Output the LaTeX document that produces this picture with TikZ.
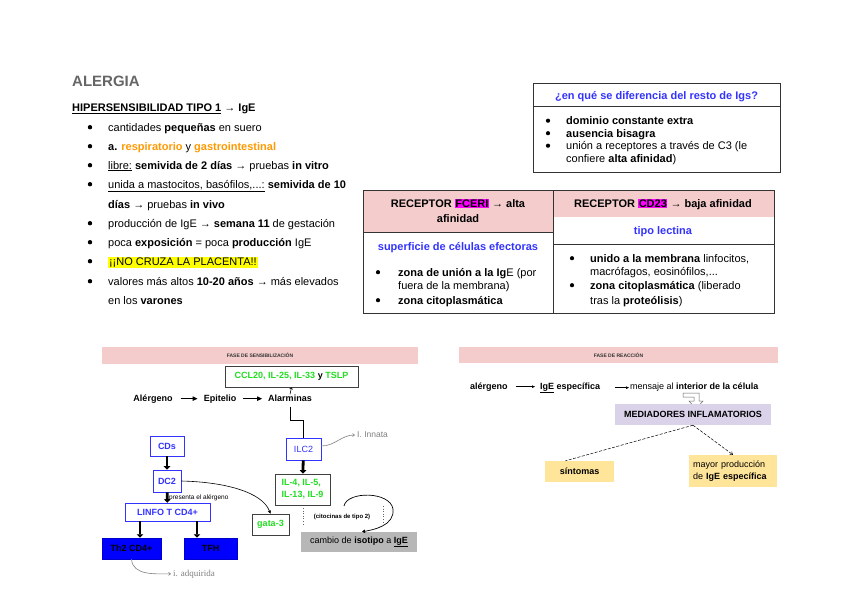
\documentclass[tikz,border=0pt]{standalone}
\usepackage{fontspec}
\setmainfont{Liberation Sans}
\newfontfamily\seriff{Liberation Serif}
\usetikzlibrary{arrows.meta}
\definecolor{alggray}{HTML}{666666}
\definecolor{orng}{HTML}{FF9900}
\definecolor{blu}{HTML}{3333FF}
\definecolor{grn}{HTML}{22DD22}
\definecolor{pnk}{HTML}{F4CCCC}
\definecolor{lav}{HTML}{D9D2E9}
\definecolor{ylw}{HTML}{FFE599}
\definecolor{gbox}{HTML}{B7B7B7}
\definecolor{mag}{HTML}{FF00FF}
\definecolor{hlyel}{HTML}{FFFF00}
\newcommand\hlmag[1]{{\setlength\fboxsep{0.6pt}\colorbox{mag}{#1}}}
\newcommand\hlyw[1]{{\setlength\fboxsep{0.8pt}\colorbox{hlyel}{#1}}}
\begin{document}
\begin{tikzpicture}[x=1pt,y=-1pt,
 every node/.style={inner sep=0pt},
 lt/.style={anchor=base west,font=\fontsize{11}{13}\selectfont},
 tc/.style={anchor=base,font=\fontsize{11}{13}\selectfont},
 banner/.style={fill=pnk,font=\bfseries\fontsize{5}{6}\selectfont,text=black!80},
 bbox/.style={draw=blu,line width=0.6pt,text=blu,font=\bfseries\fontsize{9}{11}\selectfont},
 gbx/.style={draw=black!75,line width=0.7pt},
 bfill/.style={fill=blue,draw=blue!80!black,line width=0.5pt,font=\bfseries\fontsize{9}{11}\selectfont},
 dtx/.style={anchor=base,font=\bfseries\fontsize{9}{11}\selectfont},
 tk/.style={line width=2.8pt,-{Triangle[length=3.5pt,width=6.5pt]}},
 ma/.style={line width=1pt,-{Triangle[length=5pt,width=4.5pt]}},
 sa/.style={line width=0.5pt,-{Triangle[length=3pt,width=2.5pt]}},
 ga/.style={draw=black!50,line width=0.6pt,-{Straight Barb[length=2pt,width=3pt]}},
 dsh/.style={line width=0.5pt,dash pattern=on 3pt off 1.5pt},
 tbl/.style={draw=black!80,line width=0.8pt}
]
\useasboundingbox (0,0) rectangle (848,600);
\fill[white] (0,0) rectangle (848,600);

% ---------- title and list ----------
\node[anchor=base west,font=\bfseries\fontsize{15}{18}\selectfont,text=alggray] (ttl) at (72,86.5) {ALERGIA};
\node[lt] (hdr) at (72,111.5) {\textbf{\underline{HIPERSENSIBILIDAD TIPO 1}} → \textbf{IgE}};
\node[lt] (l1) at (108,131) {cantidades \textbf{pequeñas} en suero};
\node[lt] (l2) at (108,150) {\textbf{a. \textcolor{orng}{respiratorio}} y \textbf{\textcolor{orng}{gastrointestinal}}};
\node[lt] (l3) at (108,169) {\underline{libre:} \textbf{semivida de 2 días} → pruebas \textbf{in vitro}};
\node[lt] (l4) at (108,188) {\underline{unida a mastocitos, basófilos,...:} \textbf{semivida de 10}};
\node[lt] (l5) at (108,208) {\textbf{días} → pruebas \textbf{in vivo}};
\node[lt] (l6) at (108,227) {producción de IgE → \textbf{semana 11} de gestación};
\node[lt] (l7) at (108,246) {poca \textbf{exposición} = poca \textbf{producción} IgE};
\node[lt] (l8) at (108,265) {\hlyw{¡¡NO CRUZA LA PLACENTA!!}};
\node[lt] (l9) at (108,285) {valores más altos \textbf{10-20 años} → más elevados};
\node[lt] (l10) at (108,304) {en los \textbf{varones}};
\foreach \yy in {131,150,169,188,227,246,265,285} \fill (90,\yy-3.8) circle (2.2);

% ---------- table 1 ----------
\draw[tbl] (533,83) rectangle (780,172);
\draw[tbl] (533,106) -- (780,106);
\node[tc,text=blu] (q1) at (656.5,99) {\textbf{¿en qué se diferencia del resto de Igs?}};
\node[lt] (a1) at (566,124.5) {\textbf{dominio constante extra}};
\node[lt] (a2) at (566,137) {\textbf{ausencia bisagra}};
\node[lt] (a3) at (566,149.5) {unión a receptores a través de C3 (le};
\node[lt] (a4) at (566,162.5) {confiere \textbf{alta afinidad})};
\foreach \yy in {124.5,137,149.5} \fill (548,\yy-3.8) circle (2.1);

% ---------- table 2 ----------
\fill[pnk] (363,190) rectangle (553,232);
\fill[pnk] (553,190) rectangle (774,217);
\draw[tbl] (363,190) rectangle (774,313);
\draw[tbl] (553,190) -- (553,313);
\draw[tbl] (363,232) -- (553,232);
\draw[tbl] (553,244) -- (774,244);
\node[tc] (r1a) at (458,207) {\textbf{RECEPTOR \hlmag{FCERI}} → \textbf{alta}};
\node[tc] (r1b) at (458,222) {\textbf{afinidad}};
\node[tc,text=blu] (r1c) at (458,250) {\textbf{superficie de células efectoras}};
\node[lt] (r1d) at (398,276) {\textbf{zona de unión a la Ig}E (por};
\node[lt] (r1e) at (398,289) {fuera de la membrana)};
\node[lt] (r1f) at (398,304) {\textbf{zona citoplasmática}};
\foreach \yy in {276,304} \fill (378,\yy-3.8) circle (2.1);
\node[tc] (r2a) at (663,207) {\textbf{RECEPTOR \hlmag{CD23}} → \textbf{baja afinidad}};
\node[tc,text=blu] (r2b) at (663,234) {\textbf{tipo lectina}};
\node[lt] (r2c) at (590,262) {\textbf{unido a la membrana} linfocitos,};
\node[lt] (r2d) at (590,275) {macrófagos, eosinófilos,...};
\node[lt] (r2e) at (590,289) {\textbf{zona citoplasmática} (liberado};
\node[lt] (r2f) at (590,304) {tras la \textbf{proteólisis})};
\foreach \yy in {262,289} \fill (572,\yy-3.8) circle (2.1);

% ---------- sensibilizacion ----------
\node[banner,minimum width=316,minimum height=17] (ban1) at (260,355.5) {FASE DE SENSIBILIZACIÓN};
\node[gbx,minimum width=133,minimum height=21,font=\bfseries\fontsize{9}{11}\selectfont,text=grn] (ccl) at (291.5,376.5) {CCL20, IL-25, IL-33 \textcolor{black}{y} TSLP};
\node[dtx] (alg) at (153,401) {Alérgeno};
\node[dtx] (epi) at (220,401) {Epitelio};
\node[dtx] (alarm) at (290,401) {Alarminas};
\draw[ma,shorten <=8pt,shorten >=6pt] (alg.east) -- (epi.west |- alg.east);
\draw[ma,shorten <=7pt,shorten >=6pt] (epi.east) -- (alarm.west |- epi.east);
\draw[line width=0.6pt,-{Straight Barb[length=1.5pt,width=3pt]}] (alarm.north) -- (ccl.south);
\node[bbox,minimum width=35,minimum height=22,font=\fontsize{9}{11}\selectfont] (ilc2) at (303.5,449) {ILC2};
\draw[line width=0.6pt] ([yshift=-6pt]alarm.south) -- ++(0,13) -| (ilc2.north);
\node[anchor=west,font=\fontsize{8.5}{10}\selectfont,text=black!50] (inn) at (357,435) {I. Innata};
\draw[ga] ([yshift=3pt]ilc2.east) to[out=0,in=180] ([xshift=-2pt]inn.west);
\node[gbx,minimum width=55,minimum height=31,align=left,text=grn,font=\bfseries\fontsize{9}{12}\selectfont] (il) at (302.5,489.5) {IL-4, IL-5,\\IL-13, IL-9};
\draw[tk] (ilc2) -- (il);

\node[bbox,minimum width=34,minimum height=20] (cds) at (167,446) {CDs};
\node[bbox,minimum width=28,minimum height=22] (dc2) at (167,481) {DC2};
\node[bbox,minimum width=85,minimum height=18] (linfo) at (167.5,512) {LINFO T CD4+};
\node[bfill,minimum width=59,minimum height=21] (th2) at (131.5,548.5) {Th2 CD4+};
\node[bfill,minimum width=53,minimum height=21] (tfh) at (210.5,548.5) {TFH};
\draw[tk] (cds) -- (dc2);
\draw[tk] (dc2) -- (linfo);
\node[anchor=west,font=\fontsize{6.5}{8}\selectfont] (pres) at (169,498) {presenta el alérgeno};
\coordinate (c140) at (140,0);
\coordinate (c197) at (197,0);
\draw[tk] (linfo.south -| c140) -- (th2.north -| c140);
\draw[tk] (linfo.south -| c197) -- (tfh.north -| c197);
\node[anchor=base west,font=\seriff\fontsize{9}{11}\selectfont,text=black!50] (adq) at (173,576) {i. adquirida};
\draw[ga] (th2.south) to[out=-85,in=180] ([xshift=-2pt]adq.west);

\node[gbx,minimum width=37,minimum height=21,text=grn,font=\bfseries\fontsize{9}{11}\selectfont] (gata) at (270.5,524.5) {gata-3};
\draw[line width=0.6pt,-{Triangle[length=3pt,width=3pt]}] (dc2.east) .. controls (225,482) and (262,492) .. (gata.north);

\coordinate (d1a) at (303,508);
\coordinate (d1b) at (303,526);
\coordinate (d2a) at (383,506);
\coordinate (d2b) at (383,523);
\draw[dotted,line width=0.6pt,black!60] (d1a) -- (d1b);
\draw[dotted,line width=0.6pt,black!60] (d2a) -- (d2b);
\node[font=\bfseries\fontsize{6}{7}\selectfont] (cit) at (342,517) {(citocinas de tipo 2)};
\node[fill=gbox,minimum width=116,minimum height=20,font=\fontsize{9}{11}\selectfont] (camb) at (359,542) {cambio de \textbf{isotipo} a \textbf{\underline{IgE}}};
\coordinate (arcS) at (344,506);
\draw[line width=0.7pt,-{Triangle[length=3pt,width=3.5pt]}] (arcS) .. controls (347,491) and (390,491) .. (393,509) .. controls (395,526) and (372,530) .. ([xshift=3pt]camb.north);

% ---------- reaccion ----------
\node[banner,minimum width=319,minimum height=16] (ban2) at (618.5,355) {FASE DE REACCIÓN};
\node[dtx,anchor=base west] (alg2) at (470,389) {alérgeno};
\node[dtx,anchor=base west] (ige2) at (540,389) {\underline{IgE} específica};
\node[anchor=base west,font=\fontsize{9}{11}\selectfont] (msg) at (630,389) {mensaje al \textbf{interior de la célula}};
\draw[sa,shorten <=8pt,shorten >=5pt] (alg2.east) -- (ige2.west |- alg2.east);
\draw[sa,shorten <=15pt,shorten >=1pt] (ige2.east) -- (msg.west |- ige2.east);
\draw[black!60,fill=white,line width=0.5pt] (683,393) -- (699,393) -- (699,401) -- (703,401) -- (696,409) -- (689,401) -- (694,401) -- (694,397) -- (683,397) -- cycle;
\node[fill=lav,minimum width=156,minimum height=21,font=\bfseries\fontsize{9}{11}\selectfont] (med) at (693,414.5) {MEDIADORES INFLAMATORIOS};
\node[fill=ylw,minimum width=69,minimum height=21,font=\bfseries\fontsize{9}{11}\selectfont] (sint) at (579.5,471.5) {síntomas};
\node[fill=ylw,minimum width=88,minimum height=32,align=left,text width=80,font=\fontsize{9}{12.5}\selectfont] (may) at (733,471) {mayor producción\\de \textbf{IgE específica}};
\draw[dsh] (med.south) -- ([xshift=-14pt]sint.north);
\draw[dsh,-{Straight Barb[length=2.5pt,width=3.5pt]}] (med.south) -- (may.north);
\end{tikzpicture}
\end{document}
